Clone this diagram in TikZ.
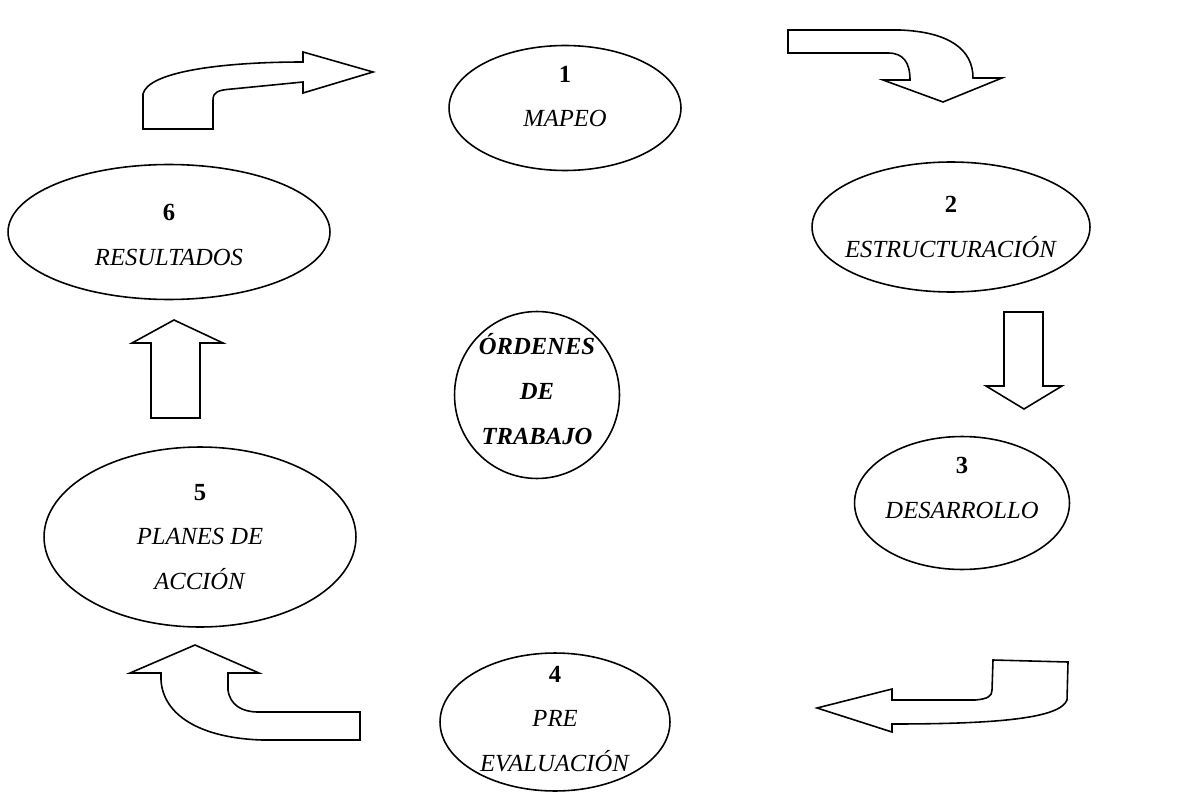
\documentclass[tikz,border=0pt]{standalone}
\usepackage{fontspec}
\setmainfont{Liberation Serif}
\usetikzlibrary{shapes.geometric}
\tikzset{%
  etapa/.style  = {shape=ellipse, draw, line width=0.9pt, inner sep=0pt},%
  texto/.style  = {align=center, inner sep=0pt,%
                   font=\fontsize{14}{25.5}\selectfont},%
  flecha/.style = {draw, line width=0.9pt, line join=miter, fill=white}%
}

\begin{document}
\begin{tikzpicture}[x=0.02cm,y=-0.02cm]
	\useasboundingbox (0,0) rectangle (1199,797);
	% etapas
	\node [etapa, minimum width=4.64cm, minimum height=2.5cm] (e1) at (565,108) {};
	\node [etapa, minimum width=5.56cm, minimum height=2.6cm] (e2) at (951,227) {};
	\node [etapa, minimum width=4.3cm, minimum height=2.66cm] (e3) at (962,503) {};
	\node [etapa, minimum width=4.6cm, minimum height=2.76cm] (e4) at (555,722) {};
	\node [etapa, minimum width=6.24cm, minimum height=3.6cm] (e5) at (200,537) {};
	\node [etapa, minimum width=6.44cm, minimum height=2.7cm] (e6) at (169,232) {};
	\node [etapa, minimum width=3.3cm, minimum height=3.34cm] (e0) at (537,395) {};
	\node [texto, yshift=0.23cm] (t1) at (e1) {\textbf{1}\\\textit{MAPEO}};
	\node [texto] (t2) at (e2) {\textbf{2}\\\textit{ESTRUCTURACIÓN}};
	\node [texto, yshift=0.3cm] (t3) at (e3) {\textbf{3}\\\textit{DESARROLLO}};
	\node [texto, yshift=0.06cm] (t4) at (e4) {\textbf{4}\\\textit{PRE}\\\textit{EVALUACIÓN}};
	\node [texto] (t5) at (e5) {\textbf{5}\\\textit{PLANES DE}\\\textit{ACCIÓN}};
	\node [texto, yshift=-0.06cm] (t6) at (e6) {\textbf{6}\\\textit{RESULTADOS}};
	\node [texto, yshift=0.12cm, font=\fontsize{14}{25.5}\selectfont\bfseries\itshape] (t0) at (e0)
		{ÓRDENES\\DE\\TRABAJO};
	% flechas
	\draw [flecha] (143,129) -- (143,94) .. controls (148,72) and (220,62) .. (303,62)
		-- (303,52) -- (373,72) -- (303,93) -- (303,82) -- (232,89)
		.. controls (218,90) and (213,92) .. (213,100) -- (213,129) -- cycle;
	\draw [flecha] (788,30) -- (900,30) .. controls (950,32) and (973,50) .. (973,78)
		-- (1002,78) -- (943,102) -- (883,80) -- (910,80)
		.. controls (910,62) and (903,53) .. (888,53) -- (788,53) -- cycle;
	\draw [flecha] (1004,312) -- (1043,312) -- (1043,386) -- (1062,386) -- (1024,409)
		-- (986,386) -- (1004,386) -- cycle;
	\draw [flecha] (993,660) -- (1068,662) -- (1067,700)
		.. controls (1060,718) and (1000,724) .. (892,724) -- (892,732) -- (817,708)
		-- (892,689) -- (892,700) -- (975,700)
		.. controls (988,699) and (992,696) .. (992,690) -- cycle;
	\draw [flecha] (360,712) -- (360,740) -- (262,740)
		.. controls (200,738) and (163,715) .. (161,680) -- (161,673) -- (130,673)
		-- (195,645) -- (259,673) -- (228,673) -- (228,690)
		.. controls (230,705) and (242,712) .. (258,712) -- cycle;
	\draw [flecha] (151,418) -- (151,343) -- (132,343) -- (174,320) -- (223,343)
		-- (200,343) -- (200,418) -- cycle;
\end{tikzpicture}
\end{document}
